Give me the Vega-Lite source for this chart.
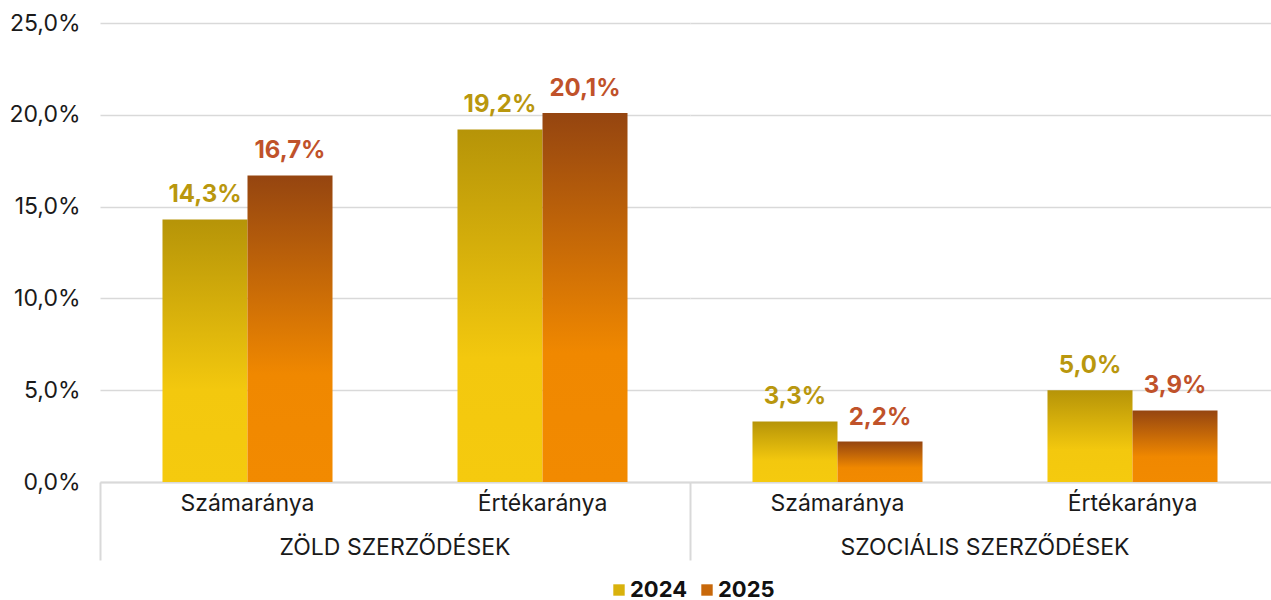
{
  "$schema": "https://vega.github.io/schema/vega-lite/v6.json",
  "padding": {"left": 8, "top": 12, "right": 0, "bottom": 0},
  "background": "white",
  "config": {
    "locale": {"number": {"decimal": ",", "thousands": " ", "grouping": [3], "currency": ["", ""]}},
    "view": {"stroke": null},
    "font": "Inter",
    "facet": {"spacing": 0}
  },
  "data": {
    "values": [
      {"group": "ZÖLD SZERZŐDÉSEK", "metric": "Számaránya", "year": "2024", "value": 0.143},
      {"group": "ZÖLD SZERZŐDÉSEK", "metric": "Számaránya", "year": "2025", "value": 0.167},
      {"group": "ZÖLD SZERZŐDÉSEK", "metric": "Értékaránya", "year": "2024", "value": 0.192},
      {"group": "ZÖLD SZERZŐDÉSEK", "metric": "Értékaránya", "year": "2025", "value": 0.201},
      {"group": "SZOCIÁLIS SZERZŐDÉSEK", "metric": "Számaránya", "year": "2024", "value": 0.033},
      {"group": "SZOCIÁLIS SZERZŐDÉSEK", "metric": "Számaránya", "year": "2025", "value": 0.022},
      {"group": "SZOCIÁLIS SZERZŐDÉSEK", "metric": "Értékaránya", "year": "2024", "value": 0.050},
      {"group": "SZOCIÁLIS SZERZŐDÉSEK", "metric": "Értékaránya", "year": "2025", "value": 0.039}
    ]
  },
  "facet": {
    "column": {
      "field": "group",
      "type": "nominal",
      "sort": ["ZÖLD SZERZŐDÉSEK", "SZOCIÁLIS SZERZŐDÉSEK"],
      "header": {"title": null, "labelOrient": "bottom", "labelFontSize": 23, "labelColor": "#1a1a1a", "labelFont": "Inter", "labelPadding": -24}
    }
  },
  "spacing": 0,
  "spec": {
    "width": 590,
    "height": 459,
    "encoding": {
      "x": {
        "field": "metric",
        "type": "nominal",
        "sort": ["Számaránya", "Értékaránya"],
        "scale": {"paddingInner": 0, "paddingOuter": 0},
        "axis": {
          "title": null, "labelAngle": 0,
          "ticks": true, "bandPosition": 0, "tickExtra": false, "tickSize": 78, "tickColor": "#d9d9d9", "tickWidth": 2,
          "tickOpacity": {"condition": {"test": "datum.value == 'Értékaránya'", "value": 0}, "value": 1},
          "domainColor": "#d9d9d9", "domainWidth": 2,
          "labelFontSize": 23, "labelColor": "#1a1a1a", "labelPadding": -68
        }
      }
    },
    "layer": [
      {
        "mark": {
          "type": "bar",
          "fill": {"expr": "datum.year == '2024' ? {gradient: 'linear', x1: 0, y1: 0, x2: 0, y2: 1, stops: [{offset: 0, color: '#B69408'}, {offset: 0.65, color: '#F3C80E'}, {offset: 1, color: '#F5CA0E'}]} : {gradient: 'linear', x1: 0, y1: 0, x2: 0, y2: 1, stops: [{offset: 0, color: '#954510'}, {offset: 0.65, color: '#F08800'}, {offset: 1, color: '#F28A00'}]}"}
        },
        "encoding": {
          "xOffset": {"field": "year", "type": "nominal", "scale": {"paddingOuter": 0.735, "paddingInner": 0}},
          "y": {
            "field": "value",
            "type": "quantitative",
            "scale": {"domain": [0, 0.25], "nice": false},
            "axis": {"title": null, "values": [0, 0.05, 0.1, 0.15, 0.2, 0.25], "format": ".1%", "domain": false, "ticks": false, "labelFontSize": 23, "labelColor": "#1a1a1a", "labelPadding": 20, "gridColor": "#d9d9d9", "gridWidth": 1.5}
          },
          "color": {
            "field": "year",
            "type": "nominal",
            "scale": {"domain": ["2024", "2025"], "range": ["#D9B20C", "#C8680A"]},
            "legend": {
              "title": null, "orient": "none", "legendX": 508, "legendY": 556, "direction": "horizontal",
              "labelFontSize": 22, "labelFontWeight": "bold", "labelColor": "#111111",
              "symbolType": "square", "symbolSize": 130, "symbolStrokeWidth": 0, "symbolOpacity": 1,
              "columnPadding": 8, "labelOffset": 0,
              "encode": {"symbols": {"update": {"fill": {"signal": "datum.value == '2024' ? {gradient: 'linear', x1: 0, y1: 0, x2: 0, y2: 1, stops: [{offset: 0, color: '#B69408'}, {offset: 1, color: '#F3C80E'}]} : {gradient: 'linear', x1: 0, y1: 0, x2: 0, y2: 1, stops: [{offset: 0, color: '#954510'}, {offset: 1, color: '#F28A00'}]}"}}}}
            }
          }
        }
      },
      {
        "mark": {"type": "text", "baseline": "alphabetic", "dy": -17, "fontSize": 24, "fontWeight": "bold"},
        "encoding": {
          "xOffset": {"field": "year", "type": "nominal", "scale": {"paddingOuter": 0.735, "paddingInner": 0}},
          "y": {"field": "value", "type": "quantitative"},
          "text": {"field": "value", "type": "quantitative", "format": ".1%"},
          "color": {"condition": {"test": "datum.year == '2024'", "value": "#B9970E"}, "value": "#C0522A"}
        }
      }
    ]
  }
}
